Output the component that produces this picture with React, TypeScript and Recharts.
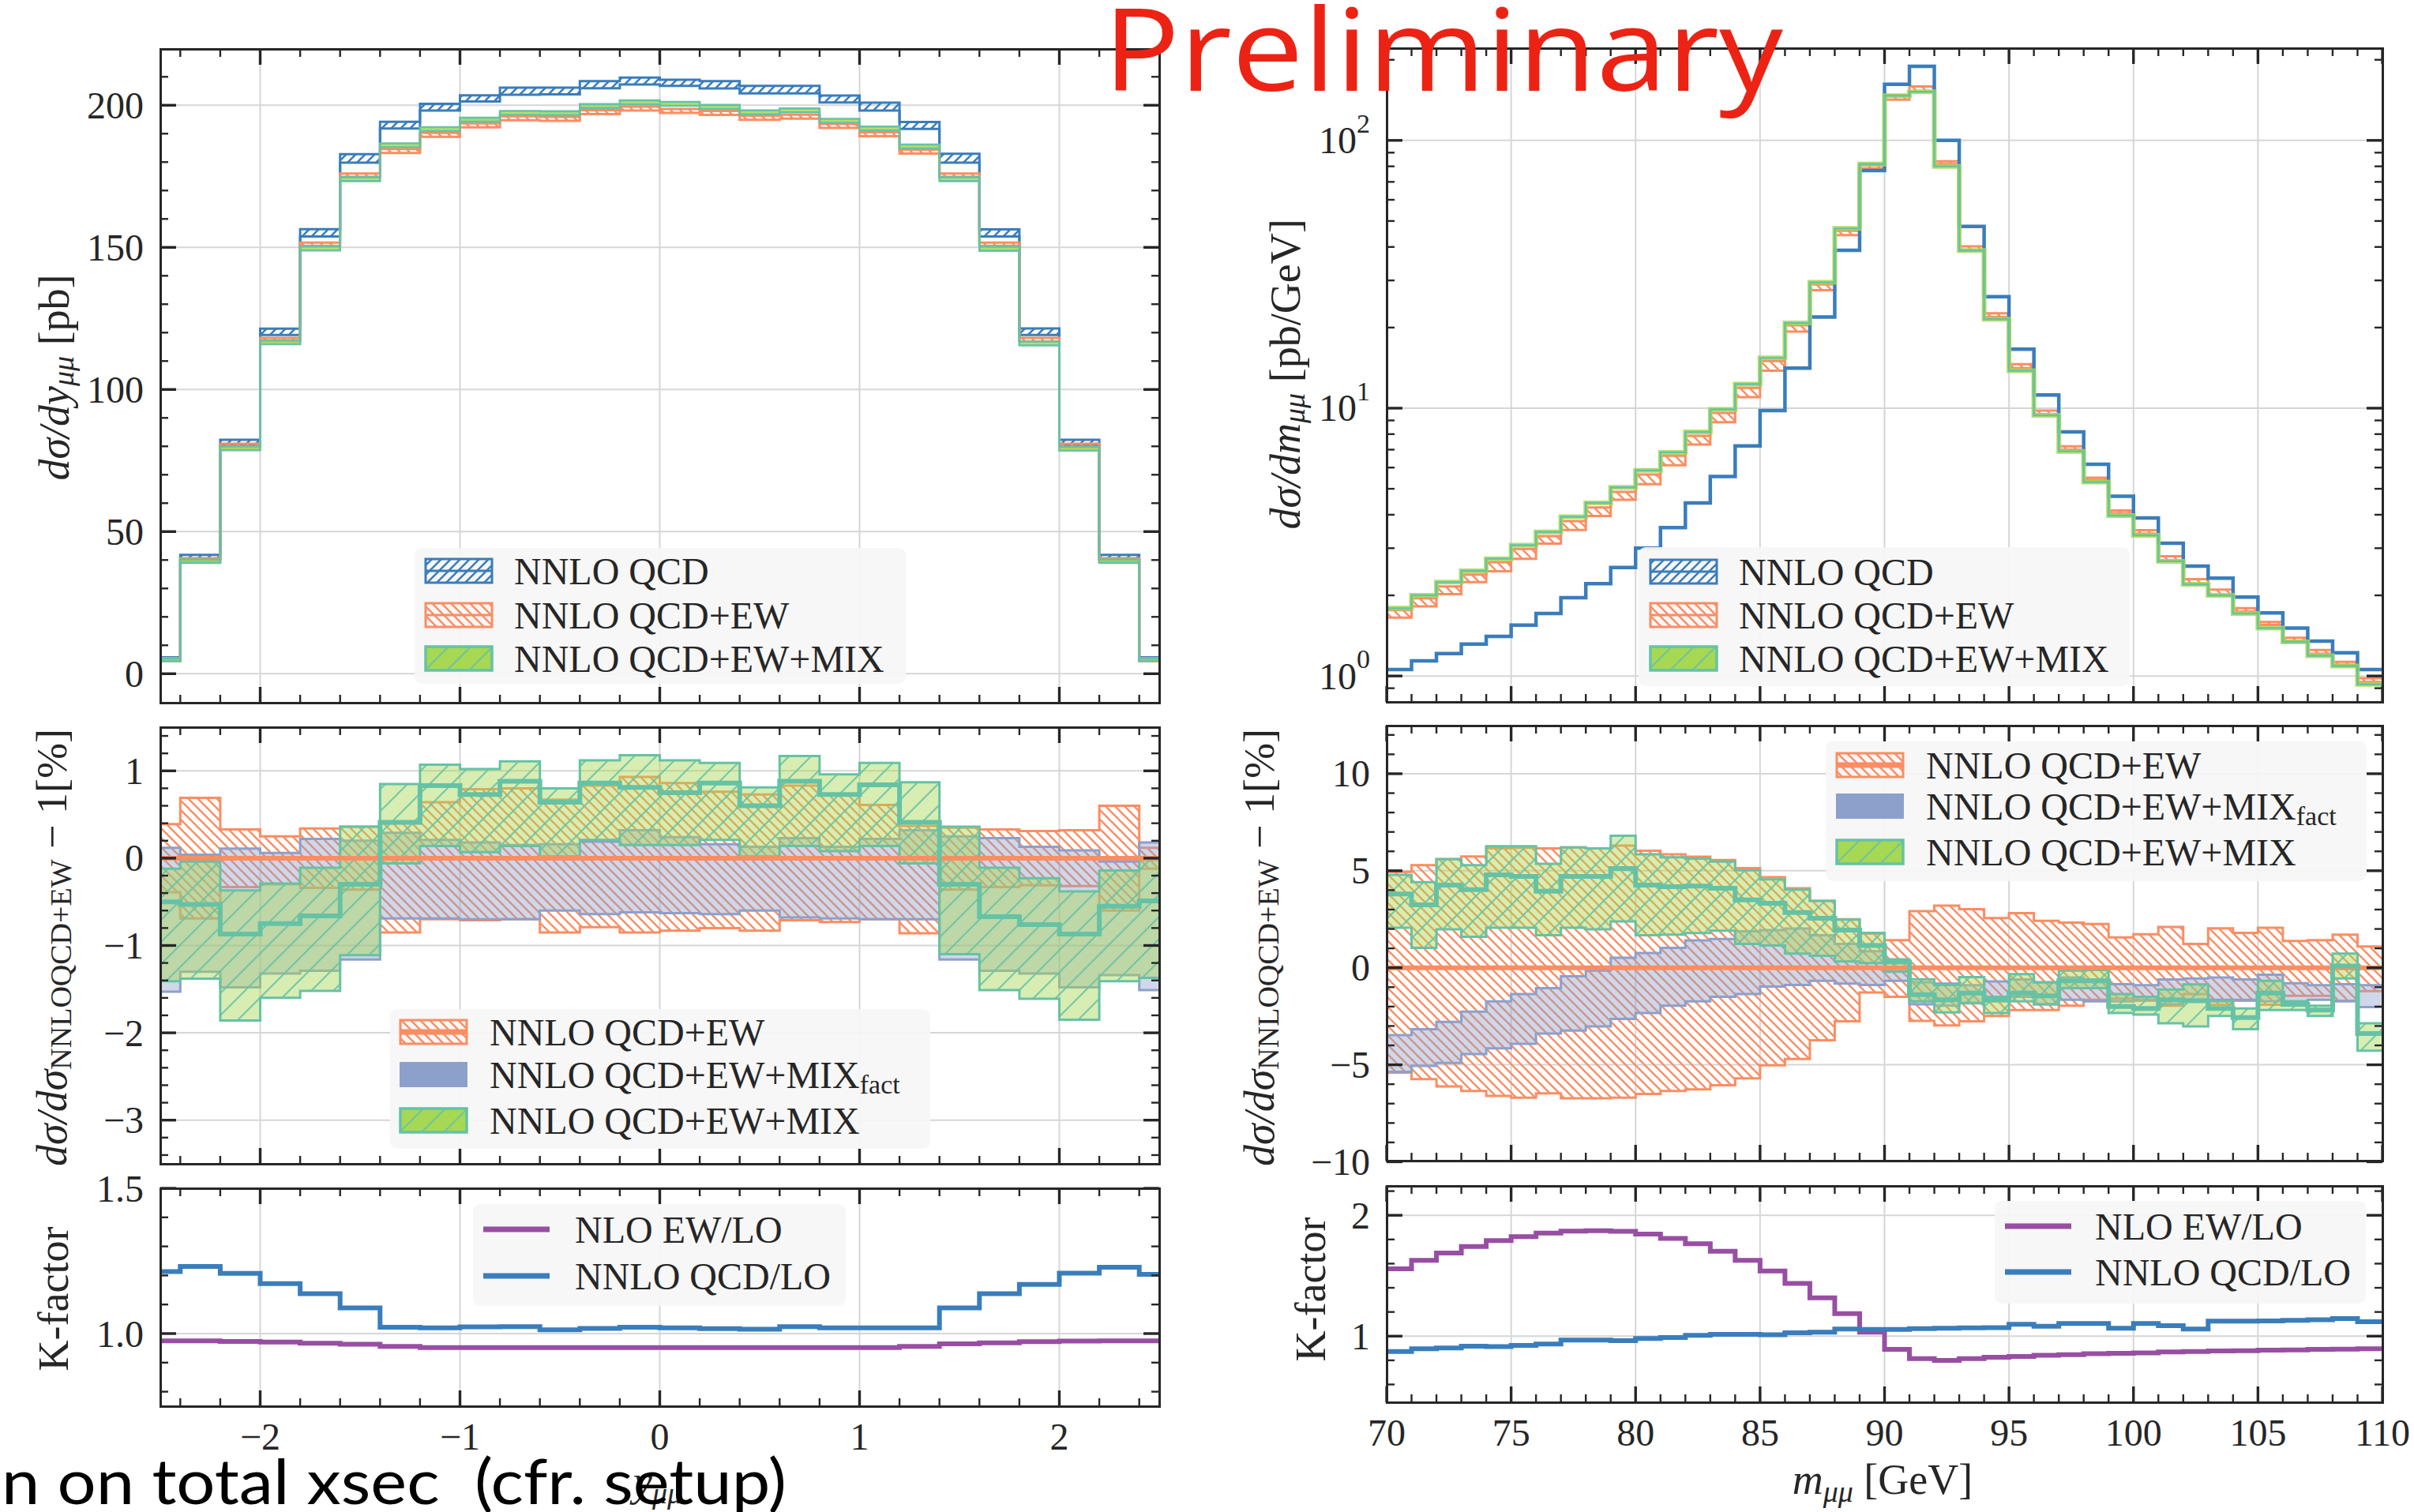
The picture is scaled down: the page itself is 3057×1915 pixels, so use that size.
import React from 'react';
import { ComposedChart, Area, Line, XAxis, YAxis, CartesianGrid, ReferenceLine } from 'recharts';

const BLUE = '#3a7dbb';
const ORANGE = '#fc8d62';
const GREEN = '#a6d854';
const TEAL = '#66c2a5';
const LAVENDER = '#8da0cb';
const PURPLE = '#984ea3';
const INK = '#262626';
const GRID = '#d6d6d6';
const SERIF = '"Liberation Serif", "DejaVu Serif", serif';

// ---------- rapidity distribution (outer half bins close the range at |y| = 2.5)
const yEdges = [-2.5, -2.4, -2.2, -2.0, -1.8, -1.6, -1.4, -1.2, -1.0, -0.8, -0.6, -0.4, -0.2, 0, 0.2, 0.4, 0.6, 0.8, 1.0, 1.2, 1.4, 1.6, 1.8, 2.0, 2.2, 2.4, 2.5];

const qcdYLo = [4.6, 40.2, 80.3, 119.2, 153.8, 179.8, 191.8, 198.1, 201.3, 203.7, 203.8, 206.0, 207.3, 206.8, 205.9, 204.2, 204.2, 201.0, 198.1, 191.7, 179.8, 153.8, 119.2, 80.3, 40.2, 4.6];
const qcdYHi = [5.8, 41.8, 82.3, 121.4, 156.4, 182.8, 194.2, 200.5, 203.5, 206.2, 206.2, 208.5, 209.7, 209.0, 208.5, 206.8, 206.8, 203.4, 200.9, 194.1, 182.9, 156.3, 121.5, 82.3, 41.8, 5.8];
const ewYLo = [4.5, 39.4, 79.5, 116.9, 150.5, 174.8, 183.2, 188.9, 192.2, 194.7, 194.5, 196.9, 198.1, 197.3, 196.6, 194.9, 195.3, 192.0, 189.1, 183.0, 174.8, 150.5, 116.9, 79.5, 39.4, 4.5];
const ewYHi = [5.5, 40.6, 80.9, 118.1, 151.7, 176.0, 184.6, 190.3, 193.6, 196.1, 195.9, 198.3, 199.5, 198.7, 198.0, 196.3, 196.7, 193.4, 190.5, 184.4, 176.0, 151.7, 118.1, 80.9, 40.6, 5.5];
const mixYLo = [4.4, 39.0, 78.6, 115.9, 148.9, 173.3, 185.2, 190.9, 194.2, 196.6, 196.5, 199.0, 200.3, 199.8, 198.7, 196.8, 197.5, 193.8, 191.1, 184.8, 173.3, 148.8, 115.5, 78.5, 39.0, 4.4];
const mixYHi = [5.4, 40.2, 80.0, 117.3, 150.3, 174.7, 186.6, 192.3, 195.6, 198.0, 197.9, 200.4, 201.7, 201.2, 200.1, 198.2, 198.9, 195.2, 192.5, 186.2, 174.7, 150.2, 116.9, 79.9, 40.2, 5.4];

// ratios to NNLO QCD+EW, in percent
const ewRYLo = [-0.39, -0.69, -0.33, -0.30, -0.34, -0.36, -0.85, -0.70, -0.71, -0.70, -0.85, -0.79, -0.85, -0.83, -0.80, -0.83, -0.71, -0.73, -0.70, -0.86, -0.36, -0.33, -0.31, -0.32, -0.60, -0.12];
const ewRYHi = [0.39, 0.69, 0.33, 0.25, 0.34, 0.36, 0.40, 0.64, 0.79, 0.80, 0.67, 0.83, 0.93, 0.86, 0.76, 0.73, 0.83, 0.72, 0.61, 0.37, 0.35, 0.33, 0.31, 0.32, 0.60, 0.12];
const factRYLo = [-1.53, -1.30, -1.48, -1.32, -1.29, -1.16, -0.69, -0.69, -0.70, -0.70, -0.60, -0.64, -0.62, -0.63, -0.64, -0.60, -0.68, -0.69, -0.70, -0.70, -1.16, -1.29, -1.32, -1.48, -1.34, -1.51];
const factRYHi = [0.12, 0.04, 0.11, 0.06, 0.22, 0.20, 0.29, 0.21, 0.18, 0.15, 0.16, 0.19, 0.32, 0.24, 0.16, 0.13, 0.23, 0.13, 0.22, 0.32, 0.25, 0.23, 0.13, 0.09, -0.04, 0.18];
const mixRYLo = [-1.41, -1.38, -1.86, -1.60, -1.52, -1.11, -0.06, 0.14, 0.07, 0.14, 0.02, 0.21, 0.15, 0.15, 0.21, 0.02, 0.14, 0.08, 0.14, -0.06, -1.10, -1.51, -1.61, -1.85, -1.41, -1.37];
const mixRYMid = [-0.50, -0.53, -0.87, -0.75, -0.66, -0.30, 0.41, 0.83, 0.73, 0.88, 0.64, 0.86, 0.81, 0.75, 0.86, 0.60, 0.88, 0.73, 0.84, 0.41, -0.30, -0.67, -0.76, -0.87, -0.55, -0.49];
const mixRYHi = [-0.12, -0.04, -0.37, -0.29, -0.11, 0.36, 0.85, 1.07, 1.02, 1.11, 0.80, 1.12, 1.18, 1.12, 1.09, 0.81, 1.17, 0.96, 1.09, 0.87, 0.36, -0.11, -0.23, -0.38, -0.14, -0.02];

// K-factors
const kQcdY = [1.213, 1.231, 1.207, 1.172, 1.137, 1.088, 1.022, 1.020, 1.023, 1.024, 1.013, 1.018, 1.022, 1.020, 1.017, 1.015, 1.024, 1.020, 1.020, 1.020, 1.088, 1.137, 1.169, 1.208, 1.228, 1.204];
const kEwY = [0.975, 0.975, 0.973, 0.971, 0.967, 0.963, 0.956, 0.952, 0.952, 0.952, 0.952, 0.952, 0.952, 0.952, 0.952, 0.952, 0.952, 0.952, 0.952, 0.956, 0.965, 0.968, 0.972, 0.974, 0.975, 0.975];

// ---------- invariant-mass distribution, 1 GeV bins
const mEdges = [70, 71, 72, 73, 74, 75, 76, 77, 78, 79, 80, 81, 82, 83, 84, 85, 86, 87, 88, 89, 90, 91, 92, 93, 94, 95, 96, 97, 98, 99, 100, 101, 102, 103, 104, 105, 106, 107, 108, 109, 110];

const qcdM = [1.057, 1.138, 1.212, 1.315, 1.405, 1.548, 1.71, 1.96, 2.21, 2.54, 3.0, 3.58, 4.43, 5.56, 7.23, 9.8, 14.1, 21.9, 38.9, 77.2, 162, 189, 100, 47.7, 26.1, 16.6, 11.2, 8.15, 6.17, 4.69, 3.89, 3.13, 2.57, 2.32, 1.97, 1.72, 1.51, 1.35, 1.22, 1.057];
const ewMLo = [1.65, 1.82, 2.02, 2.24, 2.46, 2.74, 3.12, 3.51, 3.96, 4.55, 5.2, 6.12, 7.31, 8.86, 11.0, 13.8, 19.3, 27.6, 44.3, 78.6, 142, 152, 81.6, 38.9, 21.9, 14.1, 9.5, 7.0, 5.4, 4.05, 3.4, 2.7, 2.2, 2.0, 1.74, 1.55, 1.35, 1.21, 1.10, 0.95];
const ewMHi = [1.76, 1.95, 2.16, 2.39, 2.66, 2.98, 3.33, 3.79, 4.26, 4.87, 5.65, 6.64, 7.88, 9.6, 11.9, 15.0, 20.4, 29.0, 46.0, 80.7, 147.8, 159, 83.6, 40.2, 22.6, 14.6, 9.8, 7.2, 5.5, 4.15, 3.5, 2.8, 2.3, 2.1, 1.79, 1.59, 1.39, 1.25, 1.13, 0.98];
const mixM = [1.79, 2.0, 2.24, 2.47, 2.74, 3.08, 3.45, 3.93, 4.43, 5.06, 5.86, 6.84, 8.15, 9.9, 12.3, 15.4, 20.8, 29.5, 46.9, 81.6, 146.8, 152, 80.0, 38.8, 21.5, 13.8, 9.4, 6.9, 5.3, 3.97, 3.35, 2.68, 2.2, 2.0, 1.71, 1.51, 1.34, 1.19, 1.09, 0.93];

const ewRMLo = [-5.4, -5.74, -6.12, -6.35, -6.6, -6.7, -6.47, -6.73, -6.73, -6.7, -6.5, -6.35, -6.27, -6.05, -5.7, -5.03, -4.7, -3.73, -2.76, -1.27, -1.5, -2.74, -2.97, -2.76, -2.48, -2.18, -2.18, -1.95, -1.65, -1.6, -1.7, -1.95, -1.35, -1.9, -1.7, -1.9, -1.45, -1.45, -1.7, -1.2];
const ewRMHi = [4.94, 5.29, 5.6, 5.74, 6.15, 6.18, 6.15, 6.2, 6.15, 6.3, 6.03, 5.85, 5.73, 5.55, 5.14, 4.67, 4.1, 3.45, 2.5, 1.76, 1.42, 2.92, 3.2, 3.02, 2.56, 2.82, 2.42, 2.33, 2.26, 1.56, 1.73, 2.1, 1.23, 2.03, 1.8, 2.06, 1.38, 1.42, 1.71, 1.1];
const factRMLo = [-5.36, -5.06, -4.9, -4.45, -4.15, -3.92, -3.39, -3.24, -3.02, -2.64, -2.33, -1.95, -1.73, -1.5, -1.35, -0.97, -0.89, -0.67, -0.82, -0.89, -0.67, -1.88, -1.95, -1.8, -1.73, -1.5, -1.88, -1.65, -1.73, -1.73, -1.65, -1.88, -1.65, -1.65, -1.65, -1.73, -1.73, -1.65, -1.73, -2.03];
const factRMHi = [-3.47, -3.17, -2.79, -2.26, -1.73, -1.35, -1.05, -0.44, -0.14, 0.52, 0.76, 1.03, 1.41, 1.48, 1.88, 1.94, 2.02, 1.68, 1.23, 0.85, -0.2, -0.74, -0.82, -0.9, -0.7, -0.6, -0.75, -0.5, -0.6, -0.85, -0.9, -0.6, -0.55, -0.5, -0.6, -0.36, -0.8, -0.9, -0.85, -0.9];
const mixRMLo = [2.06, 1.03, 1.98, 1.6, 2.06, 2.06, 1.68, 2.06, 1.98, 2.39, 1.68, 1.71, 1.79, 1.91, 1.23, 1.15, 0.73, 0.62, 0.32, 0.24, -0.18, -1.73, -2.3, -1.83, -2.33, -1.73, -1.88, -1.05, -1.05, -2.33, -2.41, -2.86, -3.02, -2.48, -3.17, -2.18, -2.18, -2.48, -0.55, -4.27];
const mixRMMid = [3.8, 3.24, 4.26, 4.03, 4.79, 4.71, 3.95, 4.71, 4.71, 5.12, 4.26, 4.18, 4.21, 4.1, 3.5, 3.32, 2.85, 2.55, 1.94, 1.15, 0.29, -1.39, -1.65, -1.3, -1.65, -1.3, -1.45, -0.67, -0.67, -2.0, -2.1, -1.65, -1.7, -2.1, -2.56, -1.3, -1.88, -2.18, 0.09, -3.39];
const mixRMHi = [4.79, 4.41, 5.59, 5.29, 6.26, 6.26, 5.36, 6.2, 6.15, 6.8, 5.85, 5.7, 5.62, 5.47, 5.02, 4.56, 4.03, 3.45, 2.48, 1.8, 0.44, -0.59, -0.89, -0.48, -1.5, -0.33, -0.74, -0.14, -0.11, -1.35, -1.5, -1.12, -0.86, -1.73, -2.1, -0.67, -1.73, -1.95, 0.73, -2.86];

const kQcdM = [0.873, 0.895, 0.902, 0.917, 0.913, 0.924, 0.934, 0.967, 0.967, 0.963, 0.98, 0.989, 1.007, 1.015, 1.015, 1.011, 1.028, 1.033, 1.059, 1.055, 1.055, 1.062, 1.066, 1.068, 1.07, 1.098, 1.081, 1.105, 1.105, 1.066, 1.105, 1.087, 1.059, 1.124, 1.124, 1.126, 1.13, 1.135, 1.146, 1.12];
const kEwM = [1.557, 1.627, 1.688, 1.742, 1.79, 1.823, 1.852, 1.869, 1.873, 1.867, 1.845, 1.808, 1.764, 1.703, 1.627, 1.539, 1.437, 1.317, 1.186, 1.033, 0.891, 0.814, 0.799, 0.814, 0.825, 0.832, 0.841, 0.847, 0.854, 0.858, 0.862, 0.869, 0.873, 0.878, 0.88, 0.884, 0.886, 0.891, 0.893, 0.895];

// ---------- helpers
type Cell = number | [number, number];
const band = (lo: number[], hi: number[]): [number, number][] => lo.map((v, i) => [v, hi[i]]);

// one row per bin edge; the closing edge repeats the last bin so stepAfter reaches it
function stepRows(edges: number[], cols: Record<string, Cell[]>) {
  return edges.map((x, i) => {
    const k = Math.min(i, edges.length - 2);
    const row: Record<string, unknown> = { x };
    Object.keys(cols).forEach((key) => {
      row[key] = cols[key][k];
    });
    return row;
  });
}

const steps = (a: number, b: number, s: number) => {
  const out: number[] = [];
  for (let v = a; v <= b + 1e-9; v += s) out.push(Math.round(v * 1000) / 1000);
  return out;
};
const without = (all: number[], majors: number[]) => all.filter((v) => !majors.some((m) => Math.abs(m - v) < 1e-6));

const minus = (v: number) => (v < 0 ? `\u2212${Math.abs(v)}` : `${v}`);

const yTopData = stepRows(yEdges, { qcd: band(qcdYLo, qcdYHi), ew: band(ewYLo, ewYHi), mix: band(mixYLo, mixYHi) });
const yRatioData = stepRows(yEdges, {
  ew: band(ewRYLo, ewRYHi),
  fact: band(factRYLo, factRYHi),
  mix: band(mixRYLo, mixRYHi),
  mixMid: mixRYMid,
});
const yKData = stepRows(yEdges, { qcd: kQcdY, ew: kEwY });

const mTopData = stepRows(mEdges, { qcd: qcdM, ew: band(ewMLo, ewMHi), mix: mixM });
const mRatioData = stepRows(mEdges, {
  ew: band(ewRMLo, ewRMHi),
  fact: band(factRMLo, factRMHi),
  mix: band(mixRMLo, mixRMHi),
  mixMid: mixRMMid,
});
const mKData = stepRows(mEdges, { qcd: kQcdM, ew: kEwM });

// ---------- axes with inward ticks on all four sides
const TICK_FONT = 48;

function yTick(w: number, majors: number[], fmt: (v: number) => React.ReactNode) {
  return (p: any) => {
    const v = Number(p.payload.value);
    const major = majors.some((m) => Math.abs(m - v) < 1e-6);
    const len = major ? 20 : 10;
    const sw = major ? 3.4 : 2.4;
    return (
      <g>
        <line x1={p.x} y1={p.y} x2={p.x + len} y2={p.y} stroke={INK} strokeWidth={sw} />
        <line x1={p.x + w} y1={p.y} x2={p.x + w - len} y2={p.y} stroke={INK} strokeWidth={sw} />
        {major && (
          <text x={p.x - 21} y={p.y} textAnchor="end" dominantBaseline="central" fontFamily={SERIF} fontSize={TICK_FONT} fill={INK}>
            {fmt(v)}
          </text>
        )}
      </g>
    );
  };
}

function xTick(h: number, majors: number[], fmt?: (v: number) => React.ReactNode) {
  return (p: any) => {
    const v = Number(p.payload.value);
    const major = majors.some((m) => Math.abs(m - v) < 1e-6);
    const len = major ? 20 : 10;
    const sw = major ? 3.4 : 2.4;
    return (
      <g>
        <line x1={p.x} y1={p.y} x2={p.x} y2={p.y - len} stroke={INK} strokeWidth={sw} />
        <line x1={p.x} y1={p.y - h} x2={p.x} y2={p.y - h + len} stroke={INK} strokeWidth={sw} />
        {major && fmt && (
          <text x={p.x} y={p.y + 55} textAnchor="middle" fontFamily={SERIF} fontSize={TICK_FONT} fill={INK}>
            {fmt(v)}
          </text>
        )}
      </g>
    );
  };
}

type PanelProps = {
  x: number;
  y: number;
  w: number;
  h: number;
  data: Record<string, unknown>[];
  xDomain: [number, number];
  xMajors: number[];
  xMinors: number[];
  xFmt?: (v: number) => React.ReactNode;
  yDomain: [number, number];
  yMajors: number[];
  yMinors: number[];
  yFmt: (v: number) => React.ReactNode;
  log?: boolean;
  children: React.ReactNode;
};

// axes are 1px wide/high (a zero-size axis is not drawn); the margins hold the labels
function Panel({ x, y, w, h, data, xDomain, xMajors, xMinors, xFmt, yDomain, yMajors, yMinors, yFmt, log, children }: PanelProps) {
  const m = { top: 40, right: 70, bottom: 90, left: 190 };
  const xTicks = [...xMajors, ...xMinors].sort((a, b) => a - b);
  const yTicks = [...yMajors, ...yMinors].sort((a, b) => a - b);
  return (
    <>
      <div style={{ position: 'absolute', left: x - m.left - 1, top: y - m.top }}>
        <ComposedChart width={w + m.left + 1 + m.right} height={h + m.top + 1 + m.bottom} margin={m} data={data}>
          <CartesianGrid stroke={GRID} strokeWidth={2} horizontalValues={yMajors} verticalValues={xMajors} />
          <XAxis
            dataKey="x"
            type="number"
            domain={xDomain}
            allowDataOverflow
            ticks={xTicks}
            interval={0}
            height={1}
            tickSize={0}
            tickMargin={0}
            axisLine={false}
            tickLine={false}
            tick={xTick(h, xMajors, xFmt)}
          />
          <YAxis
            type="number"
            scale={log ? 'log' : 'linear'}
            domain={yDomain}
            allowDataOverflow
            ticks={yTicks}
            interval={0}
            width={1}
            tickSize={0}
            tickMargin={0}
            axisLine={false}
            tickLine={false}
            tick={yTick(w, yMajors, yFmt)}
          />
          {children}
        </ComposedChart>
      </div>
      <div
        style={{
          position: 'absolute',
          left: x - 1.5,
          top: y - 1.5,
          width: w + 3,
          height: h + 3,
          border: `3px solid ${INK}`,
          boxSizing: 'border-box',
          pointerEvents: 'none',
        }}
      />
    </>
  );
}

// ---------- legends
function Swatch({ kind, x, cy }: { kind: string; x: number; cy: number }) {
  const w = 84;
  const h = 30;
  const y = cy - h / 2;
  if (kind === 'qcd')
    return (
      <g>
        <rect x={x} y={y} width={w} height={h} fill="url(#hatchBlue)" stroke={BLUE} strokeWidth={3} />
        <line x1={x} x2={x + w} y1={cy} y2={cy} stroke={BLUE} strokeWidth={3} />
      </g>
    );
  if (kind === 'ew')
    return (
      <g>
        <rect x={x} y={y} width={w} height={h} fill="url(#hatchOrange)" stroke={ORANGE} strokeWidth={3} />
        <line x1={x} x2={x + w} y1={cy} y2={cy} stroke={ORANGE} strokeWidth={3} />
      </g>
    );
  if (kind === 'ewRatio')
    return (
      <g>
        <rect x={x} y={y} width={w} height={h} fill="url(#hatchOrange)" stroke={ORANGE} strokeWidth={3} />
        <line x1={x} x2={x + w} y1={cy} y2={cy} stroke={ORANGE} strokeWidth={7} />
      </g>
    );
  if (kind === 'fact') return <rect x={x} y={y} width={w} height={h} fill={LAVENDER} stroke={LAVENDER} strokeWidth={2} />;
  if (kind === 'mix')
    return (
      <g>
        <rect x={x} y={y} width={w} height={h} fill={GREEN} />
        <rect x={x} y={y} width={w} height={h} fill="url(#hatchGreen)" stroke={TEAL} strokeWidth={3.5} />
      </g>
    );
  const color = kind === 'linePurple' ? PURPLE : BLUE;
  return <line x1={x} x2={x + w} y1={cy} y2={cy} stroke={color} strokeWidth={7} />;
}

type Row = { kind: string; cy: number; label: React.ReactNode };

function LegendBox({ x, y, w, h, sx, tx, rows }: { x: number; y: number; w: number; h: number; sx: number; tx: number; rows: Row[] }) {
  return (
    <svg style={{ position: 'absolute', left: x, top: y }} width={w} height={h}>
      <rect x={0} y={0} width={w} height={h} rx={9} fill="#f6f6f6" fillOpacity={0.93} />
      {rows.map((r, i) => (
        <g key={i}>
          <Swatch kind={r.kind} x={sx} cy={r.cy} />
          <text x={tx} y={r.cy} dominantBaseline="central" fontFamily={SERIF} fontSize={48} fill={INK}>
            {r.label}
          </text>
        </g>
      ))}
    </svg>
  );
}

const factLabel = (
  <>
    NNLO QCD+EW+MIX
    <tspan fontSize={34} dy={12}>
      fact
    </tspan>
  </>
);

// ---------- layout
const LX = 203;
const LW = 1265;
const RX = 1756;
const RW = 1261;

const yXMajors = [-2, -1, 0, 1, 2];
const yXMinors = without(steps(-2.4, 2.4, 0.2), yXMajors);
const mXMajors = [70, 75, 80, 85, 90, 95, 100, 105, 110];
const mXMinors = without(steps(71, 109, 1), mXMajors);

const logFmt = (v: number) => (
  <>
    10
    <tspan dy={-22} fontSize={34}>
      {Math.round(Math.log10(v))}
    </tspan>
  </>
);

export default function App() {
  const noAnim = { isAnimationActive: false } as const;
  return (
    <div style={{ position: 'absolute', left: 0, top: 0, width: 3057, height: 1915, background: '#fff', overflow: 'hidden' }}>
      <svg width={0} height={0} style={{ position: 'absolute' }}>
        <defs>
          <pattern id="hatchBlue" patternUnits="userSpaceOnUse" width={12} height={12}>
            <path d="M-3,15 L15,-3 M-3,3 L3,-3 M9,15 L15,9" stroke={BLUE} strokeWidth={2.6} />
          </pattern>
          <pattern id="hatchOrange" patternUnits="userSpaceOnUse" width={12} height={12}>
            <path d="M-3,-3 L15,15 M-3,9 L3,15 M9,-3 L15,3" stroke={ORANGE} strokeWidth={2.4} />
          </pattern>
          <pattern id="hatchGreen" patternUnits="userSpaceOnUse" width={28} height={28}>
            <path d="M-3,31 L31,-3 M-3,3 L3,-3 M25,31 L31,25" stroke={TEAL} strokeWidth={2.2} strokeOpacity={0.85} />
          </pattern>
        </defs>
      </svg>

      {/* rapidity spectrum */}
      <Panel
        x={LX}
        y={62}
        w={LW}
        h={828}
        data={yTopData}
        xDomain={[-2.5, 2.5]}
        xMajors={yXMajors}
        xMinors={yXMinors}
        yDomain={[-10.2, 219.8]}
        yMajors={[0, 50, 100, 150, 200]}
        yMinors={without(steps(10, 210, 10), [0, 50, 100, 150, 200])}
        yFmt={minus}
      >
        <Area type="stepAfter" dataKey="qcd" stroke={BLUE} strokeWidth={3} fill="url(#hatchBlue)" fillOpacity={1} {...noAnim} />
        <Area type="stepAfter" dataKey="ew" stroke={ORANGE} strokeWidth={3} fill="url(#hatchOrange)" fillOpacity={1} {...noAnim} />
        <Area type="stepAfter" dataKey="mix" stroke={TEAL} strokeWidth={2.6} fill={GREEN} fillOpacity={0.85} {...noAnim} />
      </Panel>

      {/* rapidity ratio */}
      <Panel
        x={LX}
        y={921}
        w={LW}
        h={553}
        data={yRatioData}
        xDomain={[-2.5, 2.5]}
        xMajors={yXMajors}
        xMinors={yXMinors}
        yDomain={[-3.5, 1.5]}
        yMajors={[-3, -2, -1, 0, 1]}
        yMinors={without(steps(-3.4, 1.4, 0.2), [-3, -2, -1, 0, 1])}
        yFmt={minus}
      >
        <Area type="stepAfter" dataKey="ew" stroke={ORANGE} strokeWidth={3} fill="url(#hatchOrange)" fillOpacity={1} {...noAnim} />
        <ReferenceLine y={0} stroke={ORANGE} strokeWidth={6} />
        <Area type="stepAfter" dataKey="fact" stroke={LAVENDER} strokeWidth={3} fill={LAVENDER} fillOpacity={0.42} {...noAnim} />
        <Area type="stepAfter" dataKey="mix" stroke="none" fill={GREEN} fillOpacity={0.45} {...noAnim} />
        <Area type="stepAfter" dataKey="mix" stroke={TEAL} strokeWidth={3} fill="url(#hatchGreen)" fillOpacity={1} {...noAnim} />
        <Line type="stepAfter" dataKey="mixMid" stroke={TEAL} strokeWidth={6} dot={false} activeDot={false} {...noAnim} />
      </Panel>

      {/* rapidity K-factors */}
      <Panel
        x={LX}
        y={1505}
        w={LW}
        h={276}
        data={yKData}
        xDomain={[-2.5, 2.5]}
        xMajors={yXMajors}
        xMinors={yXMinors}
        xFmt={minus}
        yDomain={[0.75, 1.5]}
        yMajors={[1.0, 1.5]}
        yMinors={[0.8, 0.9, 1.1, 1.2, 1.3, 1.4]}
        yFmt={(v) => v.toFixed(1)}
      >
        <Line type="stepAfter" dataKey="ew" stroke={PURPLE} strokeWidth={6} dot={false} activeDot={false} {...noAnim} />
        <Line type="stepAfter" dataKey="qcd" stroke={BLUE} strokeWidth={6} dot={false} activeDot={false} {...noAnim} />
      </Panel>

      {/* invariant-mass spectrum */}
      <Panel
        x={RX}
        y={61}
        w={RW}
        h={828}
        data={mTopData}
        xDomain={[70, 110]}
        xMajors={mXMajors}
        xMinors={mXMinors}
        yDomain={[0.8, 221]}
        yMajors={[1, 10, 100]}
        yMinors={[0.9, 2, 3, 4, 5, 6, 7, 8, 9, 20, 30, 40, 50, 60, 70, 80, 90, 200]}
        yFmt={logFmt}
        log
      >
        <Line type="stepAfter" dataKey="qcd" stroke={BLUE} strokeWidth={4.5} dot={false} activeDot={false} {...noAnim} />
        <Area type="stepAfter" dataKey="ew" stroke={ORANGE} strokeWidth={3} fill="url(#hatchOrange)" fillOpacity={1} {...noAnim} />
        <Line type="stepAfter" dataKey="mix" stroke={GREEN} strokeWidth={6} strokeOpacity={0.85} dot={false} activeDot={false} {...noAnim} />
        <Line type="stepAfter" dataKey="mix" stroke={TEAL} strokeWidth={2.4} dot={false} activeDot={false} {...noAnim} />
      </Panel>

      {/* invariant-mass ratio */}
      <Panel
        x={RX}
        y={919}
        w={RW}
        h={551}
        data={mRatioData}
        xDomain={[70, 110]}
        xMajors={mXMajors}
        xMinors={mXMinors}
        yDomain={[-9.94, 12.48]}
        yMajors={[-10, -5, 0, 5, 10]}
        yMinors={without(steps(-9, 12, 1), [-10, -5, 0, 5, 10])}
        yFmt={minus}
      >
        <Area type="stepAfter" dataKey="ew" stroke={ORANGE} strokeWidth={3} fill="url(#hatchOrange)" fillOpacity={1} {...noAnim} />
        <ReferenceLine y={0} stroke={ORANGE} strokeWidth={6} />
        <Area type="stepAfter" dataKey="fact" stroke={LAVENDER} strokeWidth={3} fill={LAVENDER} fillOpacity={0.42} {...noAnim} />
        <Area type="stepAfter" dataKey="mix" stroke="none" fill={GREEN} fillOpacity={0.45} {...noAnim} />
        <Area type="stepAfter" dataKey="mix" stroke={TEAL} strokeWidth={3} fill="url(#hatchGreen)" fillOpacity={1} {...noAnim} />
        <Line type="stepAfter" dataKey="mixMid" stroke={TEAL} strokeWidth={6} dot={false} activeDot={false} {...noAnim} />
      </Panel>

      {/* invariant-mass K-factors */}
      <Panel
        x={RX}
        y={1502}
        w={RW}
        h={274}
        data={mKData}
        xDomain={[70, 110]}
        xMajors={mXMajors}
        xMinors={mXMinors}
        xFmt={(v) => `${v}`}
        yDomain={[0.453, 2.243]}
        yMajors={[1, 2]}
        yMinors={[0.6, 0.8, 1.2, 1.4, 1.6, 1.8, 2.2]}
        yFmt={(v) => `${v}`}
      >
        <Line type="stepAfter" dataKey="ew" stroke={PURPLE} strokeWidth={6} dot={false} activeDot={false} {...noAnim} />
        <Line type="stepAfter" dataKey="qcd" stroke={BLUE} strokeWidth={6} dot={false} activeDot={false} {...noAnim} />
      </Panel>

      {/* legends */}
      <LegendBox
        x={525}
        y={694}
        w={622}
        h={172}
        sx={14}
        tx={126}
        rows={[
          { kind: 'qcd', cy: 29, label: 'NNLO QCD' },
          { kind: 'ew', cy: 85, label: 'NNLO QCD+EW' },
          { kind: 'mix', cy: 140, label: 'NNLO QCD+EW+MIX' },
        ]}
      />
      <LegendBox
        x={2075}
        y={693}
        w={622}
        h={176}
        sx={15}
        tx={127}
        rows={[
          { kind: 'qcd', cy: 31, label: 'NNLO QCD' },
          { kind: 'ew', cy: 86, label: 'NNLO QCD+EW' },
          { kind: 'mix', cy: 141, label: 'NNLO QCD+EW+MIX' },
        ]}
      />
      <LegendBox
        x={494}
        y={1278}
        w={684}
        h={177}
        sx={13}
        tx={126}
        rows={[
          { kind: 'ewRatio', cy: 29, label: 'NNLO QCD+EW' },
          { kind: 'fact', cy: 83, label: factLabel },
          { kind: 'mix', cy: 141, label: 'NNLO QCD+EW+MIX' },
        ]}
      />
      <LegendBox
        x={2312}
        y={939}
        w={685}
        h={177}
        sx={14}
        tx={127}
        rows={[
          { kind: 'ewRatio', cy: 30, label: 'NNLO QCD+EW' },
          { kind: 'fact', cy: 82, label: factLabel },
          { kind: 'mix', cy: 140, label: 'NNLO QCD+EW+MIX' },
        ]}
      />
      <LegendBox
        x={599}
        y={1525}
        w={472}
        h={129}
        sx={13}
        tx={129}
        rows={[
          { kind: 'linePurple', cy: 32, label: 'NLO EW/LO' },
          { kind: 'lineBlue', cy: 91, label: 'NNLO QCD/LO' },
        ]}
      />
      <LegendBox
        x={2526}
        y={1521}
        w={470}
        h={130}
        sx={13}
        tx={127}
        rows={[
          { kind: 'linePurple', cy: 32, label: 'NLO EW/LO' },
          { kind: 'lineBlue', cy: 90, label: 'NNLO QCD/LO' },
        ]}
      />

      {/* axis titles and annotations */}
      <svg style={{ position: 'absolute', left: 0, top: 0, pointerEvents: 'none' }} width={3057} height={1915}>
        <g fontFamily={SERIF} fill={INK} fontSize={54}>
          <text transform="translate(69 478) rotate(-90)" textAnchor="middle" dominantBaseline="central">
            <tspan fontStyle="italic">dσ/dy</tspan>
            <tspan fontStyle="italic" fontSize={38} dy={11}>
              μμ
            </tspan>
            <tspan dy={-11}> [pb]</tspan>
          </text>
          <text transform="translate(66 1200) rotate(-90)" textAnchor="middle" dominantBaseline="central">
            <tspan fontStyle="italic">dσ/dσ</tspan>
            <tspan fontSize={38} dy={11}>
              NNLOQCD+EW
            </tspan>
            <tspan dy={-11}> − 1[%]</tspan>
          </text>
          <text transform="translate(68 1645) rotate(-90)" textAnchor="middle" dominantBaseline="central">
            K-factor
          </text>
          <text transform="translate(1628 474) rotate(-90)" textAnchor="middle" dominantBaseline="central">
            <tspan fontStyle="italic">dσ/dm</tspan>
            <tspan fontStyle="italic" fontSize={38} dy={11}>
              μμ
            </tspan>
            <tspan dy={-11}> [pb/GeV]</tspan>
          </text>
          <text transform="translate(1595 1200) rotate(-90)" textAnchor="middle" dominantBaseline="central">
            <tspan fontStyle="italic">dσ/dσ</tspan>
            <tspan fontSize={38} dy={11}>
              NNLOQCD+EW
            </tspan>
            <tspan dy={-11}> − 1[%]</tspan>
          </text>
          <text transform="translate(1660 1633) rotate(-90)" textAnchor="middle" dominantBaseline="central">
            K-factor
          </text>
          <text x={2384} y={1892} textAnchor="middle">
            <tspan fontStyle="italic">m</tspan>
            <tspan fontStyle="italic" fontSize={38} dy={10}>
              μμ
            </tspan>
            <tspan dy={-10}> [GeV]</tspan>
          </text>
          <text x={833} y={1894} textAnchor="middle">
            <tspan fontStyle="italic">y</tspan>
            <tspan fontStyle="italic" fontSize={38} dy={10}>
              μμ
            </tspan>
          </text>
        </g>
        <text
          x={2}
          y={1905}
          fontFamily="Lato, 'Open Sans', sans-serif"
          fontSize={80}
          fill="#000"
          textLength={994}
          lengthAdjust="spacingAndGlyphs"
          style={{ whiteSpace: 'pre' }}
        >
          {'n on total xsec  (cfr. setup)'}
        </text>
        <text
          x={1397}
          y={115}
          fontFamily="'Open Sans', Lato, sans-serif"
          fontWeight={500}
          fontSize={144}
          fill="#ec2314"
          textLength={861}
          lengthAdjust="spacingAndGlyphs"
        >
          Preliminary
        </text>
      </svg>
    </div>
  );
}
